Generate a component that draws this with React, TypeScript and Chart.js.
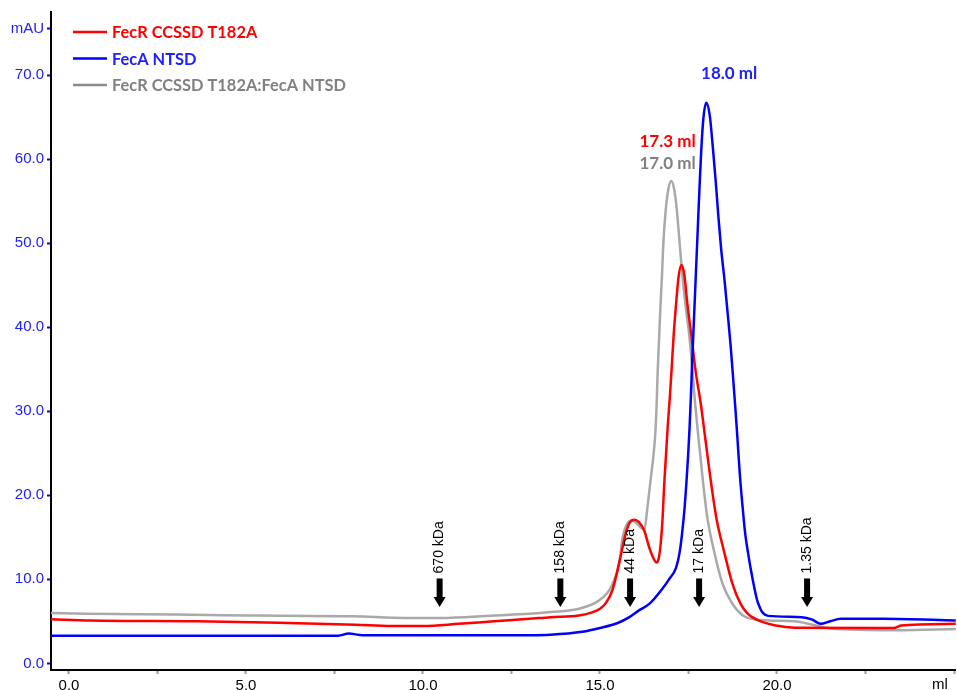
import React, { useEffect, useRef } from "react";
import { Chart, registerables } from "chart.js";
Chart.register(...registerables);

// ---- Data (ml, mAU) ----
const redMl = [-0.51, 0.6, 3.6, 5.2, 6.2, 8.1, 9.1, 10.0, 11.0, 12.0, 13.0, 13.6, 14.4, 14.8, 15.0, 15.17, 15.35, 15.54, 15.73, 15.85, 15.97, 16.1, 16.25, 16.39, 16.5, 16.6, 16.66, 16.72, 16.77, 16.81, 16.86, 16.91, 16.97, 17.03, 17.08, 17.15, 17.22, 17.3, 17.38, 17.47, 17.59, 17.7, 17.85, 17.97, 18.08, 18.18, 18.3, 18.5, 18.74, 18.97, 19.15, 19.3, 19.6, 19.96, 20.5, 23.3, 23.5, 25.06];
const redMau = [5.25, 5.1, 5.0, 4.9, 4.8, 4.6, 4.45, 4.45, 4.7, 5.0, 5.3, 5.5, 5.7, 6.1, 6.5, 7.2, 8.7, 11.9, 15.5, 16.8, 17.1, 16.8, 15.8, 13.8, 12.6, 12.0, 12.5, 14.5, 17.4, 21.0, 24.5, 28.0, 31.5, 35.5, 39.0, 42.8, 46.0, 47.4, 46.3, 42.7, 38.7, 34.8, 30.8, 26.9, 23.3, 20.2, 17.0, 13.4, 9.5, 7.1, 6.0, 5.5, 4.9, 4.5, 4.25, 4.2, 4.5, 4.7];

const blueMl = [-0.51, 7.6, 7.9, 8.3, 13.0, 13.6, 14.5, 15.0, 15.5, 15.83, 16.1, 16.4, 16.73, 16.95, 17.15, 17.25, 17.32, 17.39, 17.44, 17.49, 17.53, 17.57, 17.61, 17.66, 17.71, 17.76, 17.81, 17.86, 17.92, 18.0, 18.1, 18.19, 18.27, 18.34, 18.42, 18.52, 18.61, 18.69, 18.76, 18.83, 18.89, 18.95, 19.02, 19.1, 19.18, 19.26, 19.35, 19.44, 19.52, 19.6, 19.75, 20.7, 21.0, 21.23, 21.5, 21.8, 23.0, 25.06];
const blueMau = [3.3, 3.3, 3.55, 3.35, 3.35, 3.4, 3.75, 4.2, 4.8, 5.5, 6.3, 7.1, 8.7, 10.0, 11.4, 13.2, 15.5, 18.5, 21.4, 24.8, 28.0, 32.0, 36.5, 41.5, 46.5, 51.5, 56.5, 61.0, 64.8, 66.7, 65.2, 61.3, 57.3, 53.4, 49.4, 45.5, 41.5, 37.8, 34.0, 30.0, 26.3, 22.5, 19.0, 15.5, 13.2, 11.2, 9.2, 7.5, 6.6, 6.0, 5.65, 5.5, 5.2, 4.7, 5.0, 5.3, 5.3, 5.1];

const grayMl = [-0.51, 0.5, 3.0, 5.0, 6.0, 8.0, 9.5, 10.5, 12.0, 13.0, 13.6, 14.41, 14.98, 15.3, 15.54, 15.64, 15.75, 15.9, 16.05, 16.2, 16.26, 16.32, 16.38, 16.44, 16.5, 16.56, 16.6, 16.63, 16.67, 16.71, 16.75, 16.79, 16.85, 16.93, 17.02, 17.1, 17.17, 17.25, 17.33, 17.42, 17.53, 17.61, 17.69, 17.78, 17.9, 18.03, 18.22, 18.46, 18.74, 19.12, 19.77, 20.5, 21.0, 21.5, 23.4, 25.06];
const grayMau = [6.0, 5.9, 5.8, 5.7, 5.65, 5.6, 5.4, 5.4, 5.7, 5.9, 6.1, 6.5, 7.5, 9.0, 11.9, 15.0, 16.5, 17.0, 16.6, 16.0, 16.0, 17.8, 20.0, 22.2, 24.3, 27.2, 30.8, 34.8, 38.7, 42.7, 46.0, 50.0, 53.6, 56.4, 57.4, 56.3, 54.0, 50.0, 46.0, 42.5, 38.7, 34.8, 30.8, 26.9, 22.0, 17.4, 13.4, 9.5, 7.1, 5.5, 5.1, 5.0, 4.6, 4.15, 3.95, 4.1];

const seriesNames = ["FecR CCSSD T182A", "FecA NTSD", "FecR CCSSD T182A:FecA NTSD"];

const xTickValues = [0, 2.5, 5, 7.5, 10, 12.5, 15, 17.5, 20, 22.5, 25];
const xTickLabels = ["0.0", "", "5.0", "", "10.0", "", "15.0", "", "20.0", "", ""];
const xUnitLabel = "ml";
const yTickValues = [0, 10, 20, 30, 40, 50, 60, 70, 75.5];
const yTickLabels = ["0.0", "10.0", "20.0", "30.0", "40.0", "50.0", "60.0", "70.0", "mAU"];

const markerNames = ["670 kDa", "158 kDa", "44 kDa", "17 kDa", "1.35 kDa"];
const markerMl = [10.47, 13.88, 15.85, 17.8, 20.85];
const markerTipMau = 6.7;
const markerTopMau = 10.1;
const markerTextMau = 10.7;

const peakLabels = ["18.0 ml", "17.3 ml", "17.0 ml"];
const peakLabelMl = [18.65, 16.91, 16.91];
const peakLabelMau = [70.2, 62.1, 59.5];

const RED = "#ff0000";
const BLUE = "#0000ff";
const GRAY_LINE = "#a9a9a9";
const GRAY_TEXT = "#808080";
const BLUE_TEXT = "#2020ff";

const toPts = (xs: number[], ys: number[]) => xs.map((x, i) => ({ x, y: ys[i] }));

const annotationPlugin = {
  id: "annot",
  afterDatasetsDraw(chart: any) {
    const { ctx, scales, chartArea } = chart;
    const xs = scales.x;
    const ys = scales.y;
    ctx.save();
    // markers
    markerNames.forEach((name, i) => {
      const px = xs.getPixelForValue(markerMl[i]);
      const tip = ys.getPixelForValue(markerTipMau);
      const top = ys.getPixelForValue(markerTopMau);
      const headH = 10;
      ctx.fillStyle = "#000";
      ctx.fillRect(px - 3, top, 6, tip - headH - top + 1);
      ctx.beginPath();
      ctx.moveTo(px - 6, tip - headH);
      ctx.lineTo(px + 6, tip - headH);
      ctx.lineTo(px, tip);
      ctx.closePath();
      ctx.fill();
      ctx.save();
      ctx.translate(px, ys.getPixelForValue(markerTextMau));
      ctx.rotate(-Math.PI / 2);
      ctx.font = "14px 'Liberation Sans', Arial, sans-serif";
      ctx.textAlign = "left";
      ctx.textBaseline = "middle";
      ctx.fillText(name, 0, 0);
      ctx.restore();
    });
    // peak labels
    const peakColors = [BLUE_TEXT, RED, GRAY_TEXT];
    ctx.font = "bold 17px Lato, 'Open Sans', sans-serif";
    ctx.textAlign = "center";
    ctx.textBaseline = "middle";
    peakLabels.forEach((t, i) => {
      ctx.fillStyle = peakColors[i];
      ctx.fillText(t, xs.getPixelForValue(peakLabelMl[i]), ys.getPixelForValue(peakLabelMau[i]));
    });
    // legend
    const legColors = [RED, BLUE, "#8a8a8a"];
    const legText = [RED, BLUE_TEXT, GRAY_TEXT];
    const legY = [32, 58.5, 85];
    ctx.font = "bold 16.4px Lato, 'Open Sans', sans-serif";
    ctx.textAlign = "left";
    seriesNames.forEach((n, i) => {
      ctx.strokeStyle = legColors[i];
      ctx.lineWidth = 2.5;
      ctx.beginPath();
      ctx.moveTo(chartArea.left + 22, legY[i]);
      ctx.lineTo(chartArea.left + 56, legY[i]);
      ctx.stroke();
      ctx.fillStyle = legText[i];
      ctx.fillText(n, chartArea.left + 61, legY[i] + 1);
    });
    // x unit label
    ctx.font = "15px 'Liberation Sans', Arial, sans-serif";
    ctx.fillStyle = "#000";
    ctx.textAlign = "center";
    ctx.textBaseline = "top";
    ctx.fillText(xUnitLabel, 940, chartArea.bottom + 7);
    ctx.restore();
  },
};

export default function App() {
  const ref = useRef<HTMLCanvasElement | null>(null);
  useEffect(() => {
    if (!ref.current) return;
    const chart = new Chart(ref.current, {
      type: "line",
      data: {
        datasets: [
          { label: seriesNames[1], data: toPts(blueMl, blueMau), borderColor: BLUE, borderWidth: 2.5, pointRadius: 0, cubicInterpolationMode: "monotone", fill: false },
          { label: seriesNames[0], data: toPts(redMl, redMau), borderColor: RED, borderWidth: 2.5, pointRadius: 0, cubicInterpolationMode: "monotone", fill: false },
          { label: seriesNames[2], data: toPts(grayMl, grayMau), borderColor: GRAY_LINE, borderWidth: 2.5, pointRadius: 0, cubicInterpolationMode: "monotone", fill: false },
        ],
      },
      options: {
        animation: false,
        responsive: false,
        layout: { padding: { top: 10, right: 0, left: 0, bottom: 0 } },
        plugins: { legend: { display: false }, tooltip: { enabled: false } },
        scales: {
          x: {
            type: "linear",
            min: -0.508,
            max: 25.05,
            afterBuildTicks: (s: any) => { s.ticks = xTickValues.map((v) => ({ value: v })); },
            afterFit: (s: any) => { s.height = 20; },
            ticks: {
              autoSkip: false,
              maxRotation: 0,
              padding: 3,
              color: "#000",
              font: { family: "'Liberation Sans', Arial, sans-serif", size: 15 },
              callback: (v: any) => { const i = xTickValues.indexOf(Number(v)); return i >= 0 ? xTickLabels[i] : ""; },
            },
            grid: { drawOnChartArea: false, drawTicks: true, tickLength: 4, tickColor: "#999", tickWidth: 2 },
            border: { display: true, color: "#000", width: 2 },
          },
          y: {
            type: "linear",
            min: -0.79,
            max: 77.5,
            afterBuildTicks: (s: any) => { s.ticks = yTickValues.map((v) => ({ value: v })); },
            afterFit: (s: any) => { s.width = 51; },
            ticks: {
              autoSkip: false,
              padding: 3,
              color: BLUE_TEXT,
              font: { family: "'Liberation Sans', Arial, sans-serif", size: 15 },
              callback: (v: any) => { const i = yTickValues.indexOf(Number(v)); return i >= 0 ? yTickLabels[i] : ""; },
            },
            grid: { drawOnChartArea: false, drawTicks: true, tickLength: 4, tickColor: BLUE, tickWidth: 2 },
            border: { display: true, color: "#000", width: 2 },
          },
        },
      },
      plugins: [annotationPlugin],
    } as any);
    return () => chart.destroy();
  }, []);
  return (
    <div style={{ position: "absolute", left: 0, top: 0, width: 957, height: 690, background: "#fff" }}>
      <canvas ref={ref} width={957} height={690} style={{ display: "block" }} />
    </div>
  );
}
